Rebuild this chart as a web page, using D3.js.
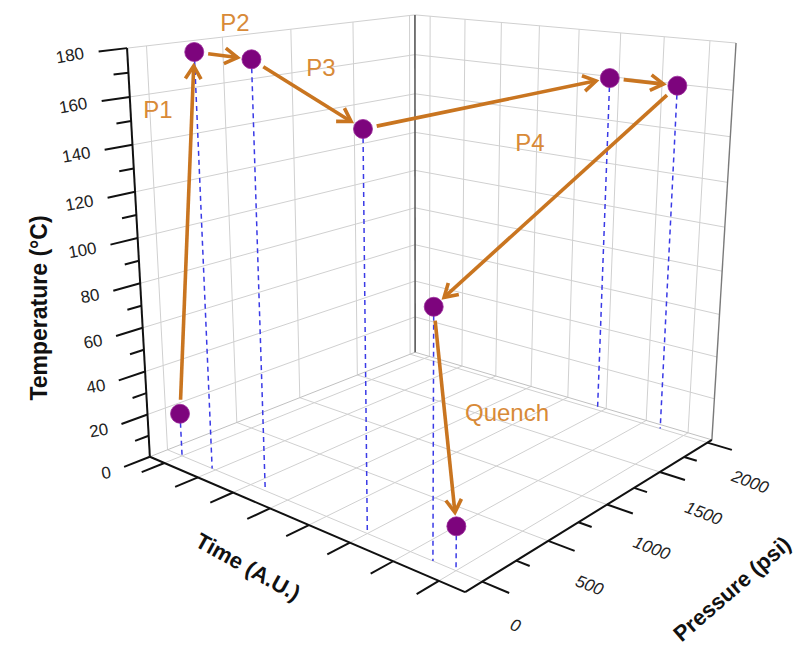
<!DOCTYPE html>
<html>
<head>
<meta charset="utf-8">
<script src="https://cdn.jsdelivr.net/npm/d3@7"></script>
<style>
  html, body { margin: 0; padding: 0; background: #fff; }
  svg { display: block; font-family: "Liberation Sans", Arial, sans-serif; }
</style>
</head>
<body>
<svg id="chart" width="796" height="649"></svg>
<script>
// ---- process path data ----
const stepTime        = [1, 1.9, 3.4, 6, 5.9, 7.45, 7.5, 8];
const stepPressure    = [0, 0, 0, 0, 2000, 2000, 0, 0];
const stepTemperature = [20, 180, 180, 160, 160, 160, 100, 18];

// stage annotations (text drawn next to the arrows)
const stageNames = ["P1", "P2", "P3", "P4", "Quench"];

// axis ticks
const timeTicks      = [1, 2, 3, 4, 5, 6, 7, 8];
const pressureTicks  = [0, 500, 1000, 1500, 2000];
const pressureMinor  = [250, 750, 1250, 1750];
const tempTicks      = [0, 20, 40, 60, 80, 100, 120, 140, 160, 180];
const tempMinor      = [10, 30, 50, 70, 90, 110, 130, 150, 170];

// ---- axis ranges ----
const tMin = 0.55, tMax = 8.55;
const pMin = -120, pMax = 2050;
const TMin = 0, TMax = 180;

const xs = d3.scaleLinear().domain([tMin, tMax]).range([0, 1]);
const ys = d3.scaleLinear().domain([pMin, pMax]).range([0, 1]);
const zs = d3.scaleLinear().domain([TMin, TMax]).range([0, 1]);

// ---- perspective camera, fitted to the screen position of the box corners ----
const boxCorners = [
  { at: [0, 0, 0], px: [150, 457] },
  { at: [0, 0, 1], px: [127, 48] },
  { at: [1, 0, 0], px: [465, 592] },
  { at: [1, 1, 0], px: [712, 440] },
  { at: [1, 1, 1], px: [736, 43] },
  { at: [0, 1, 0], px: [415, 352] },
  { at: [0, 1, 1], px: [415, 15] }
];
const CX = 400, CY = 300, SC = 400;

function solveLinear(M, rhs) {
  const n = rhs.length;
  const A = M.map((r, i) => [...r, rhs[i]]);
  for (let c = 0; c < n; c++) {
    let piv = c;
    for (let r = c + 1; r < n; r++) if (Math.abs(A[r][c]) > Math.abs(A[piv][c])) piv = r;
    [A[c], A[piv]] = [A[piv], A[c]];
    for (let r = 0; r < n; r++) {
      if (r === c) continue;
      const f = A[r][c] / A[c][c];
      for (let k = c; k <= n; k++) A[r][k] -= f * A[c][k];
    }
  }
  return A.map((r, i) => r[n] / r[i]);
}

function fitCamera(corr) {
  const rows = [], rhs = [];
  corr.forEach(({ at: [X, Y, Z], px: [u0, v0] }) => {
    const u = (u0 - CX) / SC, v = (v0 - CY) / SC;
    rows.push([X, Y, Z, 1, 0, 0, 0, 0, -u * X, -u * Y, -u * Z]); rhs.push(u);
    rows.push([0, 0, 0, 0, X, Y, Z, 1, -v * X, -v * Y, -v * Z]); rhs.push(v);
  });
  const n = 11;
  const N = Array.from({ length: n }, () => new Array(n).fill(0));
  const b = new Array(n).fill(0);
  rows.forEach((r, k) => {
    for (let i = 0; i < n; i++) {
      b[i] += r[i] * rhs[k];
      for (let j = 0; j < n; j++) N[i][j] += r[i] * r[j];
    }
  });
  return solveLinear(N, b);
}
const H = fitCamera(boxCorners);

function project(X, Y, Z) {
  const w = H[8] * X + H[9] * Y + H[10] * Z + 1;
  return [
    (H[0] * X + H[1] * Y + H[2] * Z + H[3]) / w * SC + CX,
    (H[4] * X + H[5] * Y + H[6] * Z + H[7]) / w * SC + CY
  ];
}
const P = (t, p, T) => project(xs(t), ys(p), zs(T));

const svg = d3.select("#chart");
const line = d3.line();
const gGrid = svg.append("g");
const gAxes = svg.append("g");
const gData = svg.append("g");
const gText = svg.append("g");

function seg(g, a, b, stroke, width, extra) {
  const s = g.append("path").attr("d", line([a, b]))
    .attr("fill", "none").attr("stroke", stroke).attr("stroke-width", width);
  if (extra) extra(s);
  return s;
}

// ---- grids on the two back walls and the floor ----
const gridColor = "#d0d0d0";
const tempGridLevels = tempTicks.filter(v => v > 0);
// left wall (time = tMin)
pressureTicks.forEach(p => seg(gGrid, P(tMin, p, TMin), P(tMin, p, TMax), gridColor, 1));
tempGridLevels.forEach(T => seg(gGrid, P(tMin, pMin, T), P(tMin, pMax, T), gridColor, 1));
// right wall (pressure = pMax)
timeTicks.forEach(t => seg(gGrid, P(t, pMax, TMin), P(t, pMax, TMax), gridColor, 1));
tempGridLevels.forEach(T => seg(gGrid, P(tMin, pMax, T), P(tMax, pMax, T), gridColor, 1));
// floor
timeTicks.forEach(t => seg(gGrid, P(t, pMin, TMin), P(t, pMax, TMin), gridColor, 1));
pressureTicks.forEach(p => seg(gGrid, P(tMin, p, TMin), P(tMax, p, TMin), gridColor, 1));
// floor back edges
seg(gGrid, P(tMin, pMin, TMin), P(tMin, pMax, TMin), "#c0c0c0", 1);
seg(gGrid, P(tMin, pMax, TMin), P(tMax, pMax, TMin), "#c0c0c0", 1);
// vertical box edges
seg(gGrid, P(tMin, pMax, TMin), P(tMin, pMax, TMax), "#5a5a5a", 1.6);
seg(gGrid, P(tMax, pMax, TMin), P(tMax, pMax, TMax), "#7a7a7a", 1.4);

// ---- axes ----
const axisColor = "#111";
seg(gAxes, P(tMin, pMin, TMin), P(tMin, pMin, TMax), axisColor, 2);
seg(gAxes, P(tMin, pMin, TMin), P(tMax, pMin, TMin), axisColor, 2);
seg(gAxes, P(tMax, pMin, TMin), P(tMax, pMax, TMin), axisColor, 2);

// temperature ticks (point away along -pressure)
tempTicks.forEach(T => seg(gAxes, P(tMin, pMin, T), P(tMin, pMin - 170, T), axisColor, 2));
tempMinor.forEach(T => seg(gAxes, P(tMin, pMin, T), P(tMin, pMin - 90, T), axisColor, 2));
// time ticks
timeTicks.forEach(t => seg(gAxes, P(t, pMin, TMin), P(t, pMin - 150, TMin), axisColor, 2));
// pressure ticks (point along +time)
pressureTicks.forEach(p => seg(gAxes, P(tMax, p, TMin), P(tMax + 0.55, p, TMin), axisColor, 2));
pressureMinor.forEach(p => seg(gAxes, P(tMax, p, TMin), P(tMax + 0.28, p, TMin), axisColor, 2));

// tick labels
tempTicks.forEach(T => {
  const [x, y] = P(tMin, pMin - 255, T);
  gText.append("text").attr("x", x).attr("y", y)
    .attr("transform", `rotate(-10 ${x} ${y})`)
    .attr("text-anchor", "end").attr("dominant-baseline", "central")
    .attr("font-size", 17).attr("fill", "#222").text(T);
});
pressureTicks.forEach(p => {
  const [x, y] = P(tMax + 0.6, p, -12);
  gText.append("text").attr("x", x).attr("y", y)
    .attr("transform", `rotate(21 ${x} ${y})`)
    .attr("text-anchor", "start").attr("dominant-baseline", "central")
    .attr("font-size", 17).attr("font-style", "italic").attr("fill", "#222").text(p);
});

// axis titles
function title(txt, x, y, angle, size) {
  gText.append("text").attr("x", x).attr("y", y)
    .attr("transform", `rotate(${angle} ${x} ${y})`)
    .attr("text-anchor", "middle").attr("dominant-baseline", "central")
    .attr("font-size", size).attr("font-weight", "bold").attr("fill", "#111").text(txt);
}
title("Temperature (°C)", 39, 308, -90, 23);
title("Time (A.U.)", 248, 567, 29, 22);
title("Pressure (psi)", 732, 589, -41, 22);

// ---- data: drop lines, arrows, points ----
const pts = stepTime.map((t, i) => ({
  top: P(t, stepPressure[i], stepTemperature[i]),
  base: P(t, stepPressure[i], TMin)
}));

pts.forEach(d => seg(gData, d.top, d.base, "#3a3ae6", 1.5,
  s => s.attr("stroke-dasharray", "5,4")));

const arrowColor = "#c97520";
function arrow(a, b, gapStart, gapEnd) {
  const dx = b[0] - a[0], dy = b[1] - a[1];
  const L = Math.hypot(dx, dy), ux = dx / L, uy = dy / L;
  const s = [a[0] + ux * gapStart, a[1] + uy * gapStart];
  const e = [b[0] - ux * gapEnd, b[1] - uy * gapEnd];
  seg(gData, s, e, arrowColor, 3.6, q => q.attr("stroke-linecap", "butt"));
  const ah = 15, ang = 0.55;
  const w1 = [e[0] - ah * (ux * Math.cos(ang) - uy * Math.sin(ang)), e[1] - ah * (uy * Math.cos(ang) + ux * Math.sin(ang))];
  const w2 = [e[0] - ah * (ux * Math.cos(ang) + uy * Math.sin(ang)), e[1] - ah * (uy * Math.cos(ang) - ux * Math.sin(ang))];
  gData.append("path").attr("d", line([w1, e, w2]))
    .attr("fill", "none").attr("stroke", arrowColor).attr("stroke-width", 3.6)
    .attr("stroke-linejoin", "miter").attr("stroke-linecap", "butt");
}
for (let i = 0; i < pts.length - 1; i++) arrow(pts[i].top, pts[i + 1].top, 14, 14);

gData.selectAll("circle.pt").data(pts).join("circle")
  .attr("class", "pt")
  .attr("cx", d => d.top[0]).attr("cy", d => d.top[1]).attr("r", 9.5)
  .attr("fill", "#7d047d").attr("stroke", "#9a2a9a").attr("stroke-width", 0.8);

// stage labels
const stageLabelPos = [[158, 109], [235, 22], [321, 67], [530, 142], [507, 412]];
stageNames.forEach((name, i) => {
  gText.append("text").attr("x", stageLabelPos[i][0]).attr("y", stageLabelPos[i][1])
    .attr("text-anchor", "middle").attr("dominant-baseline", "central")
    .attr("font-size", 24).attr("fill", "#d88a38").text(name);
});
</script>
</body>
</html>
